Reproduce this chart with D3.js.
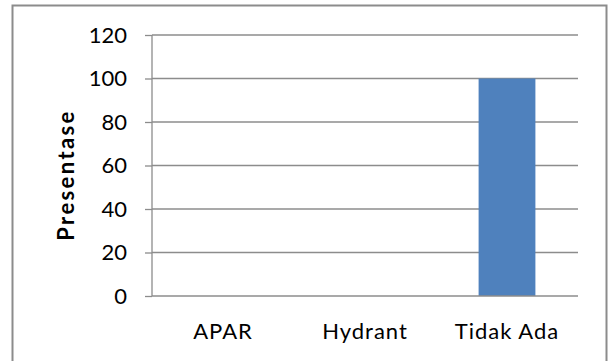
<!DOCTYPE html>
<html>
<head>
<meta charset="utf-8">
<script src="https://cdn.jsdelivr.net/npm/d3@7"></script>
<style>
  html, body { margin: 0; padding: 0; background: #fff; }
  svg { display: block; }
</style>
</head>
<body>
<svg id="chart" width="608" height="361"></svg>
<script>
// Fire-protection equipment availability (percentage)
const categories = ["APAR", "Hydrant", "Tidak Ada"];
const values = [0, 0, 100];
const yTicks = [0, 20, 40, 60, 80, 100, 120];
const yTitle = "Presentase";

const svg = d3.select("#chart");
const font = "Lato, 'Open Sans', sans-serif";

// Outer frame
svg.append("path")
  .attr("d", "M12.5,370 V5.5 H606.5 V370")
  .attr("fill", "none")
  .attr("stroke", "#8c8c8c")
  .attr("stroke-width", 2);

const plot = { left: 152, right: 578, top: 35, bottom: 296 };

const x = d3.scaleBand().domain(categories).range([plot.left, plot.right]).paddingInner(0.6).paddingOuter(0.3);
const y = d3.scaleLinear().domain([0, 120]).range([plot.bottom, plot.top]);

// Gridlines
svg.append("g").selectAll("line")
  .data(yTicks.filter(d => d > 0))
  .join("line")
  .attr("x1", plot.left).attr("x2", plot.right)
  .attr("y1", d => y(d)).attr("y2", d => y(d))
  .attr("stroke", "#8c8c8c").attr("stroke-width", 1.3);

// Bars
svg.append("g").selectAll("rect")
  .data(categories.map((c, i) => ({ c, v: values[i] })))
  .join("rect")
  .attr("x", d => x(d.c))
  .attr("width", x.bandwidth())
  .attr("y", d => y(d.v))
  .attr("height", d => y(0) - y(d.v))
  .attr("fill", "#4f81bd");

// Y axis
const yAxis = svg.append("g")
  .attr("transform", `translate(${plot.left},0)`)
  .call(d3.axisLeft(y).tickValues(yTicks).tickSize(7).tickPadding(18));
yAxis.select(".domain").attr("stroke", "#8c8c8c").attr("stroke-width", 1.3).attr("d", `M0,${plot.top}V${plot.bottom}`);
yAxis.selectAll(".tick line").attr("stroke", "#8c8c8c").attr("stroke-width", 1.3);
yAxis.selectAll(".tick text")
  .attr("fill", "#000").attr("font-family", font).attr("font-size", 22);

// X axis
const xAxis = svg.append("g")
  .attr("transform", `translate(0,${plot.bottom})`)
  .call(d3.axisBottom(x).tickSize(0).tickPadding(27));
xAxis.select(".domain").attr("stroke", "#8c8c8c").attr("stroke-width", 1.3).attr("d", `M${plot.left},0H${plot.right}`);
xAxis.selectAll(".tick text")
  .attr("fill", "#000").attr("font-family", font).attr("font-size", 22)
  .attr("letter-spacing", 1);

// Y axis title
svg.append("text")
  .attr("transform", `translate(74,175) rotate(-90)`)
  .attr("text-anchor", "middle")
  .attr("font-family", font).attr("font-size", 22).attr("font-weight", "bold")
  .attr("letter-spacing", 2.4)
  .text(yTitle);
</script>
</body>
</html>
